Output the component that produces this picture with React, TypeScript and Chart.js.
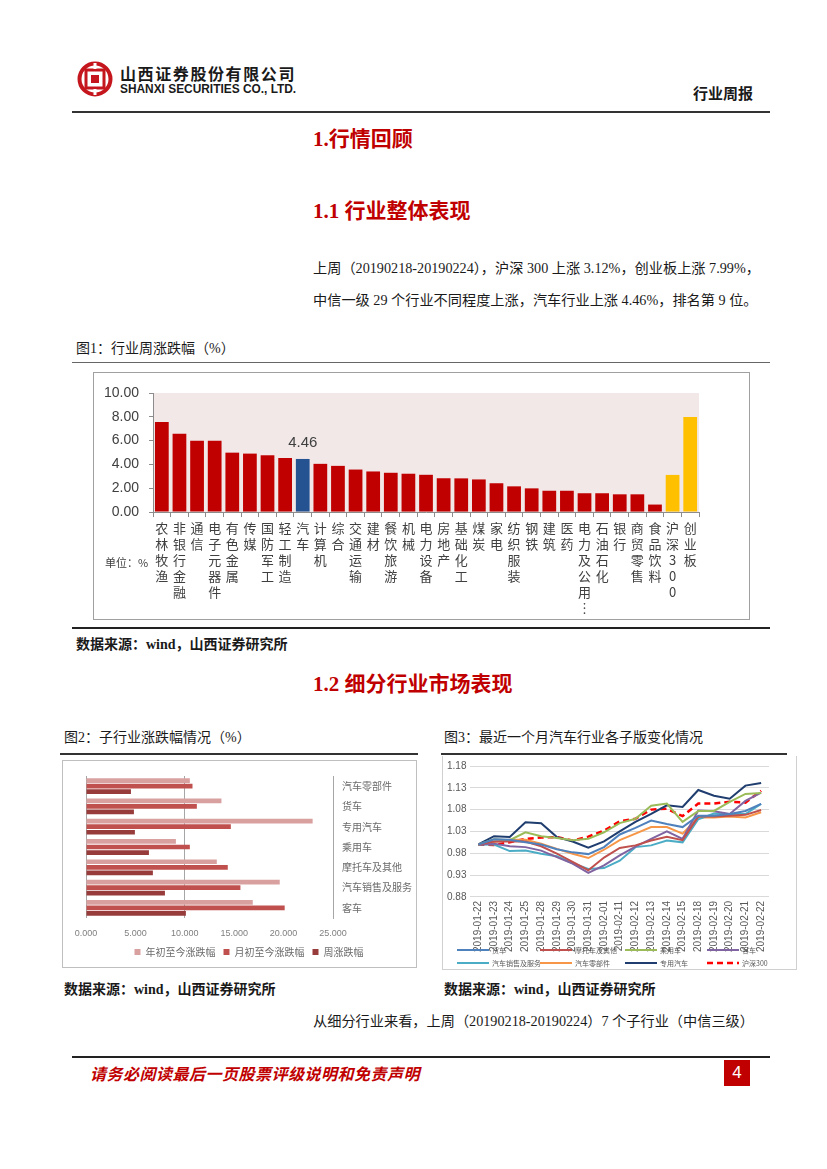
import React, { useEffect, useRef } from 'react';
import { Chart, registerables } from 'chart.js';

Chart.register(...registerables);

// ---------- Figure 1: weekly change by industry (%) ----------
const industryLabels = ['农林牧渔', '非银行金融', '通信', '电子元器件', '有色金属', '传媒', '国防军工', '轻工制造', '汽车', '计算机', '综合', '交通运输', '建材', '餐饮旅游', '机械', '电力设备', '房地产', '基础化工', '煤炭', '家电', '纺织服装', '钢铁', '建筑', '医药', '电力及公用事业', '石油石化', '银行', '商贸零售', '食品饮料', '沪深300', '创业板'];
const industryChanges = [7.57, 6.57, 5.99, 5.99, 4.99, 4.91, 4.77, 4.54, 4.46, 4.05, 3.88, 3.57, 3.41, 3.30, 3.22, 3.13, 2.84, 2.83, 2.74, 2.42, 2.16, 1.99, 1.79, 1.79, 1.58, 1.58, 1.49, 1.49, 0.63, 3.12, 7.99];
const yTicks1 = [0, 2, 4, 6, 8, 10];

// ---------- Figure 2: sub-industry changes (%) ----------
const subIndustries = ['汽车零部件', '货车', '专用汽车', '乘用车', '摩托车及其他', '汽车销售及服务', '客车'];
const ytdChange = [10.51, 13.71, 22.94, 9.10, 13.24, 19.61, 16.88];
const mtdChange = [10.78, 11.22, 14.66, 10.51, 14.35, 15.63, 20.11];
const weekChange = [4.55, 4.85, 4.95, 6.37, 6.77, 7.99, 10.11];
const seriesNames2 = ['年初至今涨跌幅', '月初至今涨跌幅', '周涨跌幅'];

// ---------- Figure 3: last month sub-sector indices ----------
const dates = ['2019-01-22', '2019-01-23', '2019-01-24', '2019-01-25', '2019-01-28', '2019-01-29', '2019-01-30', '2019-01-31', '2019-02-01', '2019-02-11', '2019-02-12', '2019-02-13', '2019-02-14', '2019-02-15', '2019-02-18', '2019-02-19', '2019-02-20', '2019-02-21', '2019-02-22'];
const huoche = [1.00, 1.012, 1.011, 1.005, 1.000, 0.989, 0.982, 0.978, 0.994, 1.023, 1.038, 1.055, 1.047, 1.040, 1.066, 1.066, 1.070, 1.077, 1.093];
const motuoche = [1.00, 1.007, 1.007, 1.007, 0.996, 0.979, 0.960, 0.941, 0.970, 0.992, 0.998, 1.009, 1.018, 1.010, 1.064, 1.064, 1.066, 1.068, 1.079];
const chengyongche = [1.00, 1.012, 1.010, 1.028, 1.019, 1.015, 1.010, 1.013, 1.028, 1.049, 1.059, 1.089, 1.094, 1.052, 1.077, 1.077, 1.098, 1.116, 1.118];
const keche = [1.00, 1.002, 0.996, 0.994, 0.986, 0.971, 0.956, 0.935, 0.952, 0.975, 0.995, 1.013, 1.030, 1.013, 1.078, 1.076, 1.070, 1.100, 1.119];
const xiaoshou = [1.00, 1.000, 0.985, 0.986, 0.979, 0.973, 0.957, 0.944, 0.946, 0.963, 0.994, 0.998, 1.009, 1.005, 1.058, 1.071, 1.070, 1.070, 1.093];
const lingbujian = [1.00, 1.006, 1.011, 1.011, 1.002, 0.990, 0.979, 0.969, 0.988, 1.010, 1.025, 1.040, 1.040, 1.025, 1.062, 1.062, 1.064, 1.062, 1.074];
const zhuanyong = [1.00, 1.019, 1.017, 1.051, 1.049, 1.017, 1.007, 0.993, 1.007, 1.030, 1.052, 1.070, 1.090, 1.086, 1.125, 1.112, 1.105, 1.135, 1.141];
const hs300 = [1.00, 0.999, 1.005, 1.013, 1.016, 1.017, 1.009, 1.018, 1.032, 1.053, 1.059, 1.080, 1.082, 1.065, 1.094, 1.094, 1.098, 1.096, 1.123];

const CJK = '"Noto Sans CJK SC"';
const SERIF = '"Liberation Serif", "Noto Sans CJK SC"';

function verticalize(label: string): string[] {
  const parts: string[] = [];
  for (const ch of Array.from(label)) parts.push(ch);
  if (parts.length > 6) return [...parts.slice(0, 5), '︙'];
  return parts;
}

const plotBg = (color: string) => ({
  id: 'plotBg',
  beforeDraw(chart: any) {
    const { ctx, chartArea } = chart;
    ctx.save();
    ctx.fillStyle = color;
    ctx.fillRect(chartArea.left, chartArea.top, chartArea.right - chartArea.left, chartArea.bottom - chartArea.top);
    ctx.restore();
  },
});

const autoLabel = {
  id: 'autoLabel',
  afterDatasetsDraw(chart: any) {
    const idx = industryLabels.indexOf('汽车');
    const bar = chart.getDatasetMeta(0).data[idx];
    const ctx = chart.ctx;
    ctx.save();
    ctx.fillStyle = '#404040';
    ctx.font = '15px "Liberation Sans"';
    ctx.textAlign = 'center';
    ctx.textBaseline = 'middle';
    ctx.fillText(industryChanges[idx].toFixed(2), bar.x, bar.y - 16);
    ctx.restore();
  },
};

const unitLabel = {
  id: 'unitLabel',
  afterDraw(chart: any) {
    const ctx = chart.ctx;
    ctx.save();
    ctx.fillStyle = '#404040';
    ctx.font = `11px ${CJK}`;
    ctx.textBaseline = 'middle';
    ctx.fillText('单位：%', 11, 190);
    ctx.restore();
  },
};

const lineLegend = {
  id: 'lineLegend',
  afterDraw(chart: any) {
    const ctx = chart.ctx;
    const cols = [14, 97, 182, 264];
    const rows = [194, 207];
    chart.data.datasets.forEach((ds: any, i: number) => {
      const x = cols[i % 4];
      const y = rows[Math.floor(i / 4)];
      ctx.save();
      ctx.strokeStyle = ds.borderColor;
      ctx.lineWidth = ds.borderWidth;
      ctx.setLineDash(ds.borderDash || []);
      ctx.beginPath();
      ctx.moveTo(x, y);
      ctx.lineTo(x + 32, y);
      ctx.stroke();
      ctx.setLineDash([]);
      ctx.fillStyle = '#595959';
      ctx.font = `7px ${CJK}`;
      ctx.textBaseline = 'middle';
      ctx.fillText(ds.label, x + 35, y);
      ctx.restore();
    });
  },
};

function makeChart1(): any {
  const colors = industryLabels.map((l) => (l === '汽车' ? '#255291' : l === '沪深300' || l === '创业板' ? '#ffc000' : '#c00000'));
  return {
    type: 'bar',
    data: {
      labels: industryLabels,
      datasets: [{ data: industryChanges, backgroundColor: colors, barPercentage: 0.78, categoryPercentage: 1 }],
    },
    options: {
      animation: false,
      responsive: false,
      devicePixelRatio: 1,
      layout: { padding: { left: 0, right: 50, top: 20, bottom: 0 } },
      plugins: { legend: { display: false }, tooltip: { enabled: false } },
      scales: {
        x: {
          grid: { drawOnChartArea: false, tickLength: 5, color: '#8c8c8c' },
          border: { color: '#8c8c8c' },
          ticks: {
            autoSkip: false, maxRotation: 0, minRotation: 0, padding: 3, color: '#404040',
            font: { family: CJK, size: 13, lineHeight: 1.23 },
            callback: (_v: any, i: number) => verticalize(industryLabels[i]),
          },
        },
        y: {
          min: yTicks1[0], max: yTicks1[yTicks1.length - 1],
          afterBuildTicks: (scale: any) => { scale.ticks = yTicks1.map((v) => ({ value: v })); },
          ticks: { padding: 10, color: '#404040', font: { family: '"Liberation Sans"', size: 14 }, callback: (v: any) => Number(v).toFixed(2) },
          grid: { drawOnChartArea: false, tickLength: 4, color: '#8c8c8c' },
          border: { color: '#8c8c8c' },
        },
      },
    },
    plugins: [plotBg('#f2e8e8'), autoLabel, unitLabel],
  };
}

function makeChart2(): any {
  return {
    type: 'bar',
    data: {
      labels: subIndustries,
      datasets: [
        { label: seriesNames2[0], data: ytdChange, backgroundColor: '#d9a0a0' },
        { label: seriesNames2[1], data: mtdChange, backgroundColor: '#c0504d' },
        { label: seriesNames2[2], data: weekChange, backgroundColor: '#983b3b' },
      ],
    },
    options: {
      indexAxis: 'y',
      animation: false,
      responsive: false,
      devicePixelRatio: 1,
      datasets: { bar: { categoryPercentage: 0.82, barPercentage: 0.85 } },
      layout: { padding: { left: 23, right: 4, top: 10, bottom: 0 } },
      plugins: {
        tooltip: { enabled: false },
        legend: {
          position: 'bottom',
          labels: { boxWidth: 6, boxHeight: 6, padding: 8, color: '#6b6b6b', font: { family: CJK, size: 10 } },
        },
      },
      scales: {
        x: {
          min: 0, max: 25,
          afterFit: (s: any) => { s.height = 21; },
          ticks: { stepSize: 5, padding: 10, color: '#7f7f7f', font: { family: '"Liberation Sans"', size: 9 }, callback: (v: any) => Number(v).toFixed(3) },
          grid: {
            drawTicks: false,
            color: (c: any) => (c.tick && (c.tick.value === 0 || c.tick.value === 10) ? '#a6a6a6' : 'rgba(0,0,0,0)'),
          },
          border: { display: false },
        },
        y: {
          position: 'right',
          afterFit: (s: any) => { s.width = 79; },
          grid: { display: false, drawTicks: false },
          border: { display: true, color: '#a6a6a6' },
          ticks: { padding: 9, color: '#6b6b6b', font: { family: CJK, size: 10 } },
        },
      },
    },
  };
}

function makeChart3(): any {
  const mk = (label: string, data: number[], color: string, dash?: number[]) => ({
    label, data, borderColor: color, backgroundColor: color, borderWidth: dash ? 2.5 : 2,
    borderDash: dash, pointRadius: 0, tension: 0, fill: false,
  });
  return {
    type: 'line',
    data: {
      labels: dates,
      datasets: [
        mk('货车', huoche, '#4f81bd'),
        mk('摩托车及其他', motuoche, '#c0504d'),
        mk('乘用车', chengyongche, '#9bbb59'),
        mk('客车', keche, '#8064a2'),
        mk('汽车销售及服务', xiaoshou, '#4bacc6'),
        mk('汽车零部件', lingbujian, '#f79646'),
        mk('专用汽车', zhuanyong, '#1f3d6e'),
        mk('沪深300', hs300, '#ff0000', [6, 4]),
      ],
    },
    options: {
      animation: false,
      responsive: false,
      devicePixelRatio: 1,
      layout: { padding: { left: 0, right: 27, top: 8, bottom: 13 } },
      plugins: { legend: { display: false }, tooltip: { enabled: false } },
      scales: {
        x: {
          offset: true,
          grid: { display: false, drawTicks: false },
          border: { display: false },
          ticks: { autoSkip: false, minRotation: 90, maxRotation: 90, padding: 4, color: '#595959', font: { family: '"Liberation Sans"', size: 10 } },
        },
        y: {
          min: 0.88, max: 1.18,
          ticks: { stepSize: 0.05, padding: 4, color: '#595959', font: { family: '"Liberation Sans"', size: 10 }, callback: (v: any) => Number(v).toFixed(2) },
          grid: { color: '#d9d9d9', drawTicks: false },
          border: { display: false },
        },
      },
    },
    plugins: [lineLegend],
  };
}

function ChartBox(props: { left: number; top: number; width: number; height: number; border: any; cw: number; ch: number; make: () => any }) {
  const ref = useRef<HTMLCanvasElement>(null);
  useEffect(() => {
    const chart = new Chart(ref.current as HTMLCanvasElement, props.make());
    return () => chart.destroy();
  }, []);
  return (
    <div style={{ position: 'absolute', left: props.left, top: props.top, width: props.width, height: props.height, boxSizing: 'border-box', background: '#fff', ...props.border }}>
      <canvas ref={ref} width={props.cw} height={props.ch} style={{ display: 'block', width: props.cw, height: props.ch }} />
    </div>
  );
}

function Txt(props: { x: number; y: number; size: number; children: any; style?: any }) {
  return (
    <div style={{ position: 'absolute', left: props.x, top: props.y - props.size * 0.65, fontSize: props.size, lineHeight: `${props.size * 1.3}px`, whiteSpace: 'nowrap', fontFamily: SERIF, color: '#1a1a1a', ...props.style }}>
      {props.children}
    </div>
  );
}

function Rule(props: { x: number; y: number; w: number; h: number; color: string }) {
  return <div style={{ position: 'absolute', left: props.x, top: props.y, width: props.w, height: props.h, background: props.color }} />;
}

export default function App() {
  const red = '#c00000';
  return (
    <div style={{ position: 'absolute', left: 0, top: 0, width: 827, height: 1169, background: '#fff', overflow: 'hidden' }}>
      {/* logo */}
      <svg style={{ position: 'absolute', left: 77, top: 61 }} width={36} height={36} viewBox="0 0 36 36">
        <circle cx={18} cy={18} r={15.5} fill="none" stroke="#c4161c" strokeWidth={4} />
        <rect x={9} y={9} width={18} height={18} fill="none" stroke="#c4161c" strokeWidth={3} />
        <rect x={14} y={14} width={8} height={8} fill="#c4161c" />
        <rect x={16.5} y={2} width={3} height={6} fill="#fff" />
        <rect x={16.5} y={28} width={3} height={6} fill="#fff" />
      </svg>
      <Txt x={120} y={73} size={16} style={{ fontFamily: CJK, fontWeight: 'bold', letterSpacing: 1.6 }}>山西证券股份有限公司</Txt>
      <Txt x={120} y={90} size={11.9} style={{ fontFamily: '"Liberation Sans"', fontWeight: 'bold' }}>SHANXI SECURITIES CO., LTD.</Txt>
      <Txt x={693} y={93} size={15} style={{ fontFamily: CJK, fontWeight: 'bold' }}>行业周报</Txt>
      <Rule x={72} y={111} w={698} h={1.5} color="#333" />

      <Txt x={313} y={140} size={21} style={{ color: red, fontWeight: 'bold' }}>1.行情回顾</Txt>
      <Txt x={313} y={212} size={21} style={{ color: red, fontWeight: 'bold' }}>1.1 行业整体表现</Txt>
      <Txt x={313} y={268} size={14.2}>上周（20190218-20190224），沪深 300 上涨 3.12%，创业板上涨 7.99%，</Txt>
      <Txt x={313} y={300} size={14.2}>中信一级 29 个行业不同程度上涨，汽车行业上涨 4.46%，排名第 9 位。</Txt>

      <Txt x={76} y={349} size={14}>图1：行业周涨跌幅（%）</Txt>
      <Rule x={72} y={362} w={698} h={1} color="#666" />
      <ChartBox left={93} top={372} width={657} height={248} border={{ border: '1px solid #a0a0a0' }} cw={655} ch={246} make={makeChart1} />
      <Rule x={72} y={627} w={698} h={2} color="#222" />
      <Txt x={76} y={645} size={14} style={{ fontWeight: 'bold' }}>数据来源：wind，山西证券研究所</Txt>

      <Txt x={313} y={685} size={21} style={{ color: red, fontWeight: 'bold' }}>1.2 细分行业市场表现</Txt>

      <Txt x={64} y={738} size={14}>图2：子行业涨跌幅情况（%）</Txt>
      <Txt x={444} y={738} size={14}>图3：最近一个月汽车行业各子版变化情况</Txt>
      <Rule x={60} y={753} w={358} h={1.5} color="#333" />
      <Rule x={441} y={753} w={346} h={1.5} color="#333" />
      <ChartBox left={62} top={760} width={355} height={208} border={{ border: '1px solid #bfbfbf' }} cw={353} ch={206} make={makeChart2} />
      <ChartBox left={442} top={756} width={355} height={214} border={{ borderLeft: '1px solid #d0d0d0', borderRight: '1px solid #d0d0d0', borderBottom: '1px solid #d0d0d0' }} cw={353} ch={213} make={makeChart3} />
      <Txt x={64} y={990} size={14} style={{ fontWeight: 'bold' }}>数据来源：wind，山西证券研究所</Txt>
      <Txt x={444} y={990} size={14} style={{ fontWeight: 'bold' }}>数据来源：wind，山西证券研究所</Txt>
      <Txt x={313} y={1021} size={14.2}>从细分行业来看，上周（20190218-20190224）7 个子行业（中信三级）</Txt>

      <Rule x={72} y={1056} w={698} h={1.5} color="#222" />
      <Txt x={90} y={1073} size={16} style={{ color: red, fontWeight: 'bold', fontStyle: 'italic', fontFamily: CJK, letterSpacing: 0.5 }}>请务必阅读最后一页股票评级说明和免责声明</Txt>
      <div style={{ position: 'absolute', left: 724, top: 1060, width: 26, height: 26, background: red, color: '#fff', fontFamily: '"Liberation Sans"', fontSize: 17, lineHeight: '26px', textAlign: 'center' }}>4</div>
    </div>
  );
}
